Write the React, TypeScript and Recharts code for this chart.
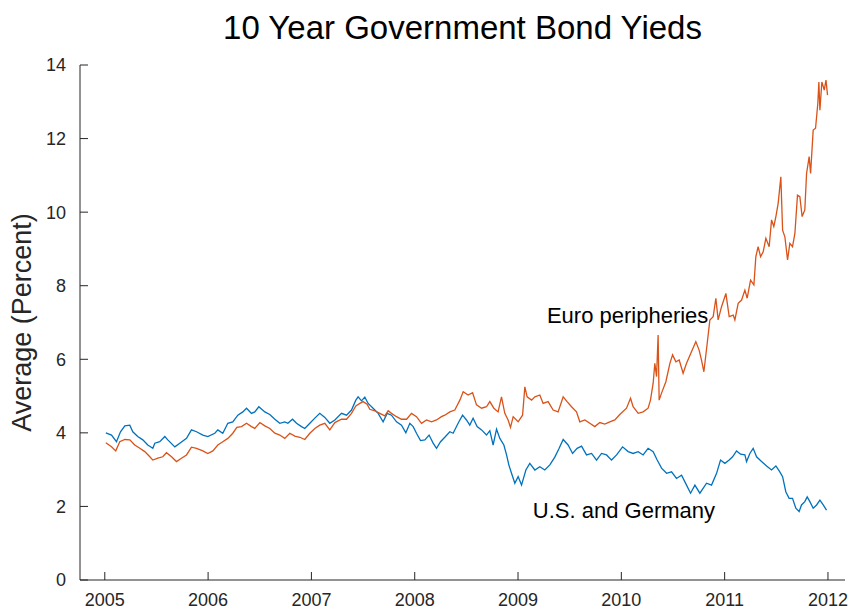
import * as React from "react";
import { LineChart, Line, XAxis, YAxis, ReferenceDot } from "recharts";

// U.S. and Germany average 10y yield (fractional year, percent)
const usYears = [
  2005.01, 2005.065, 2005.113, 2005.152, 2005.194, 2005.242, 2005.271, 2005.319, 2005.368, 2005.416,
  2005.465, 2005.484, 2005.532, 2005.581, 2005.61, 2005.678, 2005.726, 2005.791, 2005.839, 2005.888,
  2005.949, 2005.997, 2006.065, 2006.094, 2006.142, 2006.191, 2006.239, 2006.288, 2006.336, 2006.372,
  2006.42, 2006.452, 2006.491, 2006.549, 2006.597, 2006.646, 2006.694, 2006.742, 2006.772, 2006.817,
  2006.856, 2006.904, 2006.936, 2006.985, 2007.033, 2007.081, 2007.13, 2007.178, 2007.227, 2007.291,
  2007.34, 2007.388, 2007.43, 2007.452, 2007.485, 2007.517, 2007.549, 2007.597, 2007.646, 2007.694,
  2007.733, 2007.775, 2007.824, 2007.872, 2007.914, 2007.953, 2007.985, 2008.017, 2008.056, 2008.098,
  2008.139, 2008.178, 2008.211, 2008.25, 2008.291, 2008.34, 2008.372, 2008.42, 2008.463, 2008.501,
  2008.533, 2008.565, 2008.604, 2008.647, 2008.695, 2008.727, 2008.759, 2008.792, 2008.824, 2008.863,
  2008.889, 2008.911, 2008.937, 2008.969, 2009.001, 2009.034, 2009.076, 2009.114, 2009.163, 2009.211,
  2009.259, 2009.308, 2009.356, 2009.398, 2009.437, 2009.485, 2009.528, 2009.572, 2009.615, 2009.663,
  2009.712, 2009.76, 2009.808, 2009.857, 2009.905, 2009.954, 2010.012, 2010.066, 2010.114, 2010.163,
  2010.211, 2010.259, 2010.308, 2010.347, 2010.389, 2010.438, 2010.486, 2010.534, 2010.583, 2010.631,
  2010.67, 2010.712, 2010.76, 2010.825, 2010.873, 2010.922, 2010.96, 2011.002, 2011.044, 2011.077,
  2011.115, 2011.154, 2011.196, 2011.212, 2011.244, 2011.276, 2011.309, 2011.357, 2011.406, 2011.454,
  2011.496, 2011.534, 2011.561, 2011.592, 2011.624, 2011.657, 2011.689, 2011.721, 2011.744, 2011.776,
  2011.799, 2011.825, 2011.857, 2011.89, 2011.922, 2011.954, 2011.986,
];
const usYield = [
  4.0, 3.94, 3.76, 4.03, 4.19, 4.21, 4.03, 3.9, 3.81, 3.67,
  3.58, 3.72, 3.76, 3.9, 3.81, 3.62, 3.72, 3.85, 4.08, 4.03,
  3.94, 3.9, 3.99, 4.08, 3.99, 4.26, 4.3, 4.48, 4.57, 4.67,
  4.53, 4.57, 4.71, 4.57, 4.5, 4.37, 4.26, 4.3, 4.26, 4.37,
  4.26, 4.17, 4.12, 4.26, 4.4, 4.53, 4.42, 4.26, 4.35, 4.53,
  4.48, 4.62, 4.89, 4.98, 4.87, 4.97, 4.8, 4.67, 4.53, 4.3,
  4.53, 4.48, 4.3, 4.21, 4.0, 4.26, 4.17, 3.99, 3.79, 3.81,
  3.94, 3.72, 3.58, 3.76, 3.88, 4.03, 3.99, 4.26, 4.48, 4.35,
  4.21, 4.4, 4.17, 4.08, 3.94, 4.06, 3.67, 4.1, 3.85, 3.67,
  3.4, 3.13, 2.9, 2.63, 2.81, 2.58, 2.99, 3.17, 2.99, 3.08,
  2.99, 3.13, 3.34, 3.58, 3.82, 3.67, 3.44, 3.58, 3.64, 3.4,
  3.44, 3.26, 3.44, 3.4, 3.26, 3.4, 3.62, 3.49, 3.44, 3.49,
  3.4, 3.58, 3.49, 3.26, 3.04, 2.9, 2.94, 2.76, 2.85, 2.58,
  2.36, 2.58, 2.36, 2.63, 2.58, 2.9, 3.26, 3.17, 3.26, 3.35,
  3.51, 3.42, 3.4, 3.22, 3.44, 3.58, 3.35, 3.22, 3.1, 2.99,
  3.1, 2.94, 2.81, 2.4, 2.22, 2.22, 1.95, 1.86, 2.04, 2.13,
  2.26, 2.13, 1.95, 2.04, 2.17, 2.04, 1.9,
];

// Euro peripheries average 10y yield
const euroYears = [
  2005.01, 2005.065, 2005.106, 2005.145, 2005.194, 2005.242, 2005.29, 2005.339, 2005.387, 2005.436,
  2005.465, 2005.513, 2005.561, 2005.597, 2005.646, 2005.694, 2005.742, 2005.791, 2005.839, 2005.888,
  2005.949, 2005.997, 2006.046, 2006.094, 2006.142, 2006.191, 2006.239, 2006.278, 2006.323, 2006.372,
  2006.42, 2006.452, 2006.501, 2006.549, 2006.597, 2006.646, 2006.694, 2006.742, 2006.791, 2006.839,
  2006.888, 2006.936, 2006.985, 2007.033, 2007.081, 2007.13, 2007.178, 2007.227, 2007.291, 2007.34,
  2007.388, 2007.43, 2007.469, 2007.5, 2007.539, 2007.565, 2007.614, 2007.662, 2007.711, 2007.743,
  2007.775, 2007.824, 2007.872, 2007.921, 2007.969, 2008.017, 2008.066, 2008.114, 2008.163, 2008.211,
  2008.259, 2008.291, 2008.34, 2008.388, 2008.437, 2008.469, 2008.517, 2008.56, 2008.598, 2008.647,
  2008.695, 2008.727, 2008.766, 2008.807, 2008.84, 2008.872, 2008.904, 2008.927, 2008.953, 2009.001,
  2009.044, 2009.066, 2009.088, 2009.131, 2009.163, 2009.211, 2009.243, 2009.291, 2009.34, 2009.388,
  2009.437, 2009.475, 2009.518, 2009.566, 2009.598, 2009.647, 2009.695, 2009.743, 2009.792, 2009.84,
  2009.888, 2009.937, 2009.985, 2010.05, 2010.089, 2010.114, 2010.163, 2010.211, 2010.259, 2010.282,
  2010.308, 2010.324, 2010.341, 2010.356, 2010.366, 2010.389, 2010.431, 2010.47, 2010.496, 2010.528,
  2010.56, 2010.598, 2010.631, 2010.68, 2010.721, 2010.753, 2010.776, 2010.799, 2010.831, 2010.857,
  2010.889, 2010.915, 2010.937, 2010.97, 2011.012, 2011.044, 2011.083, 2011.099, 2011.131, 2011.164,
  2011.196, 2011.218, 2011.251, 2011.283, 2011.302, 2011.324, 2011.348, 2011.373, 2011.399, 2011.431,
  2011.454, 2011.476, 2011.496, 2011.518, 2011.544, 2011.561, 2011.583, 2011.609, 2011.631, 2011.657,
  2011.68, 2011.705, 2011.728, 2011.75, 2011.776, 2011.793, 2011.818, 2011.832, 2011.857, 2011.88,
  2011.902, 2011.912, 2011.922, 2011.941, 2011.964, 2011.981, 2011.996,
];
const euroYield = [
  3.73, 3.62, 3.51, 3.76, 3.82, 3.81, 3.67, 3.58, 3.49, 3.35,
  3.26, 3.31, 3.35, 3.46, 3.35, 3.22, 3.31, 3.4, 3.61, 3.58,
  3.51, 3.44, 3.51, 3.67, 3.76, 3.85, 3.99, 4.15, 4.17, 4.26,
  4.17, 4.12, 4.28, 4.19, 4.12, 3.99, 3.94, 3.85, 3.99, 3.91,
  3.88, 3.82, 3.99, 4.12, 4.21, 4.26, 4.08, 4.28, 4.37, 4.37,
  4.53, 4.73, 4.8, 4.85, 4.78, 4.64, 4.6, 4.53, 4.46, 4.6,
  4.53, 4.44, 4.37, 4.37, 4.53, 4.44, 4.26, 4.35, 4.3, 4.35,
  4.44, 4.48, 4.57, 4.62, 4.89, 5.12, 5.03, 5.09, 4.76, 4.67,
  4.71, 4.85, 4.67, 4.57, 4.98, 4.53, 4.35, 4.15, 4.44, 4.3,
  4.48, 5.25, 4.98, 4.89, 4.98, 5.03, 4.8, 4.85, 4.62, 4.57,
  4.98, 4.85, 4.71, 4.57, 4.3, 4.35, 4.26, 4.17, 4.28, 4.24,
  4.3, 4.35, 4.5, 4.67, 4.94, 4.71, 4.53, 4.57, 4.67, 4.89,
  5.35, 5.89, 5.53, 6.66, 4.89, 5.08, 5.39, 5.89, 6.12, 5.93,
  5.98, 5.62, 5.89, 6.21, 6.48, 6.25, 5.98, 5.66, 6.43, 7.07,
  7.16, 7.66, 7.07, 7.43, 7.79, 7.16, 7.2, 7.07, 7.52, 7.61,
  7.88, 7.66, 8.15, 8.02, 8.79, 9.06, 8.79, 8.92, 9.29, 9.06,
  9.79, 9.61, 9.88, 10.24, 10.96, 9.51, 9.33, 8.7, 9.15, 9.06,
  9.42, 10.46, 10.42, 9.88, 10.06, 11.05, 11.51, 11.05, 12.23, 12.28,
  12.96, 13.54, 12.77, 13.54, 13.32, 13.59, 13.18,
];

const xTicks = [2005, 2006, 2007, 2008, 2009, 2010, 2011, 2012];
const yTicks = [0, 2, 4, 6, 8, 10, 12, 14];

const usData = usYears.map((t, i) => ({ t, v: usYield[i] }));
const euroData = euroYears.map((t, i) => ({ t, v: euroYield[i] }));

const FONT = "'Liberation Sans', Arial, Helvetica, sans-serif";
const AXIS = "#262626";

function YLabel(props: any) {
  const vb = props.viewBox || { x: 0, y: 65, width: 80, height: 515 };
  const cx = vb.x + 22;
  const cy = vb.y + vb.height / 2;
  return (
    <text
      x={cx}
      y={cy}
      transform={`rotate(-90 ${cx} ${cy})`}
      textAnchor="middle"
      dominantBaseline="central"
      fontSize={27}
      fontFamily={FONT}
      fill={AXIS}
    >
      Average (Percent)
    </text>
  );
}

export default function App() {
  return (
    <div style={{ position: "absolute", left: 0, top: 0, width: 851, height: 610, background: "#fff" }}>
      <div
        style={{
          position: "absolute",
          left: 80,
          width: 765,
          top: 8,
          textAlign: "center",
          fontFamily: FONT,
          fontSize: 33,
          lineHeight: "40px",
          color: "#000",
        }}
      >
        10 Year Government Bond Yieds
      </div>
      <LineChart width={851} height={610} margin={{ top: 65, right: 6, bottom: 0, left: 0 }}>
        <XAxis
          type="number"
          dataKey="t"
          domain={[2004.76, 2012.165]}
          ticks={xTicks}
          allowDataOverflow
          height={30}
          stroke={AXIS}
          tickSize={-8}
          tickMargin={21}
          tick={{ fill: AXIS, fontSize: 18, fontFamily: FONT }}
          tickFormatter={(v) => String(v)}
        />
        <YAxis
          type="number"
          domain={[0, 14]}
          ticks={yTicks}
          width={80}
          stroke={AXIS}
          tickSize={-8}
          tickMargin={22}
          tick={{ fill: AXIS, fontSize: 18, fontFamily: FONT }}
          label={<YLabel />}
        />
        <Line
          data={usData}
          dataKey="v"
          type="linear"
          stroke="#0072BD"
          strokeWidth={1.3}
          dot={false}
          isAnimationActive={false}
        />
        <Line
          data={euroData}
          dataKey="v"
          type="linear"
          stroke="#D95319"
          strokeWidth={1.3}
          dot={false}
          isAnimationActive={false}
        />
        <ReferenceDot
          x={2009.27}
          y={7.2}
          r={1}
          fill="none"
          stroke="none"
          label={{ value: "Euro peripheries", position: "right", offset: 0, fontSize: 22, fill: "#000", fontFamily: FONT }}
        />
        <ReferenceDot
          x={2009.134}
          y={1.9}
          r={1}
          fill="none"
          stroke="none"
          label={{ value: "U.S. and Germany", position: "right", offset: 0, fontSize: 22, fill: "#000", fontFamily: FONT }}
        />
      </LineChart>
    </div>
  );
}
